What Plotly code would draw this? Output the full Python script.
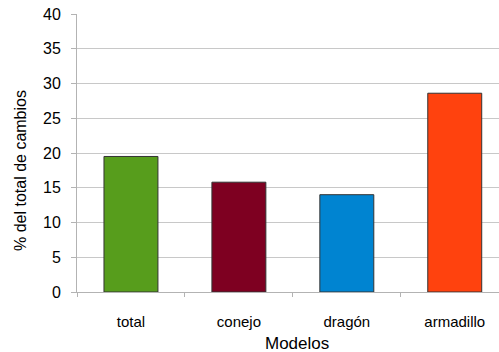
import plotly.graph_objects as go

categories = ["total", "conejo", "dragón", "armadillo"]
values = [19.5, 15.8, 14.0, 28.6]
colors = ["#579D1C", "#7E0021", "#0084D1", "#FF420E"]
y_ticks = [0, 5, 10, 15, 20, 25, 30, 35, 40]

fig = go.Figure(go.Bar(
    x=categories, y=values, width=0.5,
    marker=dict(color=colors, line=dict(color="#333333", width=1)),
))

fig.update_layout(
    width=499, height=352,
    margin=dict(l=77, r=0, t=14, b=60),
    plot_bgcolor="white", paper_bgcolor="white",
    font=dict(family="Liberation Sans, Arial, sans-serif", color="#000000", size=14),
    showlegend=False,
    xaxis=dict(
        range=[-0.5, 3.41],
        showgrid=False,
        showline=True, linecolor="#b3b3b3", linewidth=1,
        ticks="outside", tickson="boundaries", ticklen=4, tickcolor="#b3b3b3",
        tickfont=dict(size=15),
        ticklabelstandoff=16,
    ),
    yaxis=dict(
        range=[0, 40], tickvals=y_ticks,
        showgrid=True, gridcolor="#c8c8c8", gridwidth=1,
        showline=True, linecolor="#b3b3b3", linewidth=1,
        ticks="outside", ticklen=5, tickcolor="#b3b3b3",
        tickfont=dict(size=16),
        ticklabelstandoff=7,
        zeroline=False,
    ),
    annotations=[
        dict(
            text="Modelos", xref="paper", yref="paper",
            x=(297 - 77) / 422, y=-(343 - 292) / 278,
            xanchor="center", yanchor="middle", showarrow=False,
            font=dict(size=17),
        ),
        dict(
            text="% del total de cambios", xref="paper", yref="paper",
            x=-(77 - 20) / 422, y=(292 - 171) / 278,
            xanchor="center", yanchor="middle", showarrow=False,
            textangle=-90, font=dict(size=16),
        ),
    ],
)

fig.write_html("out.html")
